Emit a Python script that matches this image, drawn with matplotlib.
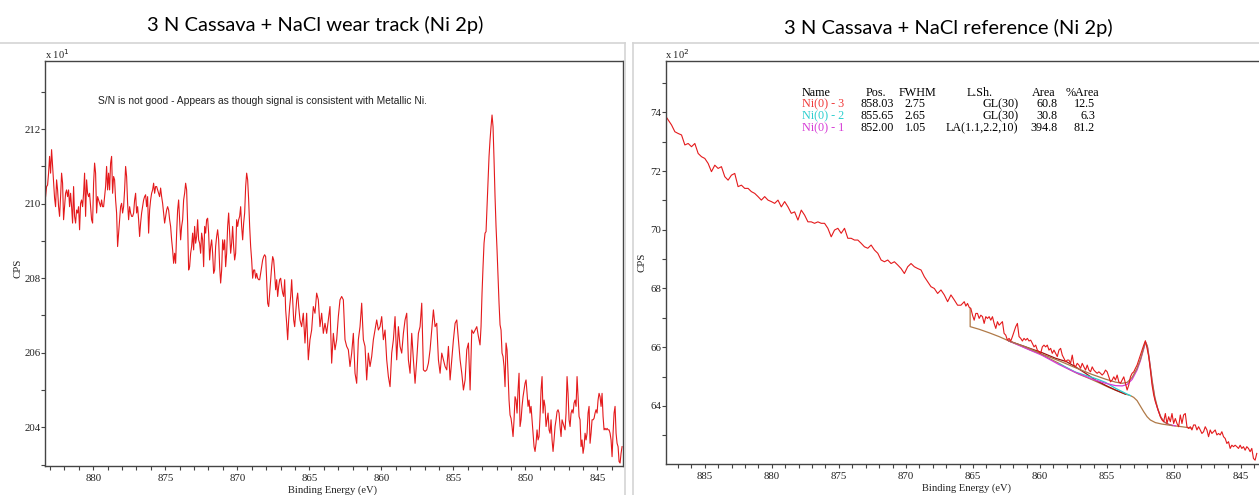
import numpy as np
import matplotlib
matplotlib.use('Agg')
import matplotlib.pyplot as plt
from matplotlib.lines import Line2D
from matplotlib.ticker import MultipleLocator

# ---------------- data: wear track (CPS x 10^1) ----------------
wear_seg1_range = (883.31, 865.74)
wear_seg1 = [
    210.19, 210.46, 210.50, 210.82, 211.27, 210.82, 211.45, 211.00, 210.55, 210.15,
    209.92, 210.64, 210.37, 209.92, 209.66, 210.19, 210.82, 210.55, 209.57, 209.92,
    210.28, 210.37, 210.19, 210.37, 209.92, 210.28, 209.92, 209.48, 210.46, 209.66,
    209.48, 209.83, 209.75, 209.92, 209.30, 210.01, 210.10, 209.92, 210.28, 210.82,
    209.66, 210.64, 210.28, 210.19, 210.28, 209.92, 209.57, 209.48, 210.55, 211.09,
    210.82, 209.75, 210.19, 210.10, 210.01, 209.92, 210.10, 209.92, 209.92, 210.19,
    210.46, 211.00, 210.37, 210.82, 210.37, 211.09, 211.27, 210.28, 210.73, 210.64,
    210.10, 209.75, 208.85, 209.21, 209.57, 209.92, 210.01, 209.75, 209.92, 210.37,
    211.00, 210.73, 210.01, 209.57, 209.92, 209.75, 209.66, 209.66, 209.75, 210.10,
    210.28, 209.75, 209.92, 209.57, 209.12, 209.48, 209.75, 209.92, 210.10, 210.19,
    210.24, 209.92, 210.19, 209.21, 209.83, 210.10, 210.28, 210.37, 210.55, 210.28,
    210.46, 210.46, 210.37, 210.28, 210.19, 210.42, 210.19, 210.01, 209.75, 209.48,
    209.66, 209.83, 209.92, 209.83, 209.57, 209.39, 209.03, 208.76, 208.40, 208.67,
    208.40, 209.21, 209.83, 210.10, 209.57, 209.03, 209.39, 209.57, 210.10, 210.28,
    210.55, 210.37, 209.48, 208.22, 208.31, 208.67, 208.85, 209.21, 208.76, 209.39,
    208.94, 209.12, 209.57, 209.03, 208.94, 208.67, 209.21, 209.03, 208.31, 209.39,
    209.21, 209.57, 209.61, 209.21, 208.49, 208.85, 209.03, 208.67, 208.13, 208.22,
    208.85, 209.12, 209.30, 209.03, 208.31, 207.87, 208.22, 209.03, 208.76, 209.03,
    208.31, 208.67, 209.39, 209.75, 209.21, 208.67, 208.94, 209.39, 208.85, 208.49,
    208.67, 209.57, 209.39, 209.57, 209.66, 209.92, 209.39, 209.03, 209.48, 209.75,
    210.46, 210.82, 210.64, 210.10, 209.39, 208.85, 208.49, 208.00, 208.22, 208.22,
    208.00, 208.13, 208.00, 207.96, 207.96, 208.13, 208.31, 208.49, 208.58, 208.63,
    208.58, 207.96, 207.33, 207.24, 207.60, 207.96, 208.31, 208.58, 208.49, 208.13,
    207.69, 207.96, 207.51, 207.78, 207.96, 208.00, 207.78, 207.60, 207.51, 207.96,
    207.15, 206.79, 206.35, 206.88, 207.24, 207.51, 207.96, 207.42, 206.88, 206.70,
    207.06, 207.42, 207.60, 207.24,
]
wear_seg2_range = (865.65, 853.26)
wear_seg2 = [
    206.88, 206.70, 207.06, 206.26, 207.06, 205.81, 206.35, 206.61, 207.24, 207.06,
    207.60, 207.42, 206.70, 207.06, 206.52, 206.79, 206.52, 206.88, 207.24, 205.72,
    206.52, 206.08, 206.35, 206.97, 207.42, 207.51, 207.42, 206.35, 206.17, 206.08,
    205.63, 205.99, 206.52, 205.45, 205.18, 206.35, 206.70, 207.33, 206.35, 206.17,
    205.27, 205.99, 205.63, 205.90, 206.35, 206.61, 206.88, 206.61, 206.70, 206.97,
    206.35, 206.61, 205.81, 205.36, 205.09, 205.99, 206.35, 206.97, 205.81, 206.70,
    206.17, 205.99, 206.52, 206.88, 207.06, 205.81, 205.45, 206.52, 205.81, 205.18,
    205.81, 206.52, 206.70, 207.33, 205.54, 205.50, 205.54, 205.72, 206.08, 206.61,
    207.15, 206.70, 206.79, 205.81, 205.45, 205.99, 205.81, 205.63, 205.54, 206.17,
    205.27, 205.81, 206.35, 206.79, 206.88, 206.35, 205.81, 205.45, 205.00, 205.27,
    206.08, 206.26, 205.00, 206.61, 206.52, 206.61, 206.70, 206.43,
]
wear_seg3_range = (853.15, 843.29)
wear_seg3 = [
    206.21, 206.70, 207.60, 208.31, 208.94, 209.21, 209.25, 209.92, 210.64, 211.27,
    211.71, 212.07, 212.38, 212.07, 211.18, 210.19, 209.39, 208.76, 208.04, 207.33,
    206.75, 206.61, 205.99, 205.90, 205.63, 205.09, 206.26, 206.08, 205.45, 204.73,
    204.33, 204.24, 204.02, 203.75, 204.20, 204.82, 204.73, 204.38, 205.00, 205.45,
    204.02, 204.20, 204.56, 204.82, 205.00, 205.18, 205.27, 204.91, 204.56, 204.73,
    204.38, 204.56, 204.20, 203.84, 203.48, 203.35, 203.57, 203.93, 203.66, 203.75,
    204.29, 205.00, 205.36, 204.38, 204.73, 204.56, 204.02, 204.20, 204.38, 203.93,
    203.84, 204.20, 203.66, 203.35, 203.66, 204.02, 204.20, 204.42, 204.47, 204.38,
    204.02, 203.75, 204.20, 204.11, 204.02, 203.93, 204.38, 205.36, 204.91, 204.20,
    204.02, 204.38, 204.47, 204.38, 204.65, 204.73, 204.56, 205.36, 204.82, 204.29,
    204.20, 203.48, 203.66, 203.30, 203.48, 203.84, 203.66, 203.84, 204.38, 204.56,
    203.57, 203.84, 204.20, 204.20, 204.24, 204.38, 204.47, 204.38, 204.73, 204.91,
    204.82, 204.56, 204.91, 204.29, 203.93, 203.97, 203.93, 203.97, 203.93, 203.93,
    203.84, 203.66, 203.21, 203.84, 204.38, 204.56, 203.84, 203.57, 203.48, 203.08,
    203.04, 203.30, 203.48,
]

# ---------------- data: reference (CPS x 10^2) ----------------
ref_seg1_range = (887.98, 865.65)
ref_seg1 = [
    73.91, 73.74, 73.57, 73.34, 73.28, 73.23, 72.89, 72.94, 72.83, 72.94,
    72.60, 72.49, 72.43, 72.26, 71.98, 72.20, 72.09, 72.15, 71.81, 71.69,
    71.86, 71.92, 71.47, 71.52, 71.41, 71.41, 71.30, 71.24, 71.13, 71.01,
    71.13, 71.01, 70.96, 70.90, 71.01, 70.78, 70.96, 70.78, 70.56, 70.61,
    70.33, 70.67, 70.50, 70.27, 70.27, 70.22, 70.27, 70.22, 70.22, 70.05,
    69.76, 69.99, 70.05, 69.88, 70.05, 69.71, 69.71, 69.65, 69.65, 69.54,
    69.42, 69.37, 69.48, 69.31, 69.20, 68.97, 68.91, 68.97, 68.85, 68.91,
    68.80, 68.68, 68.51, 68.74, 68.85, 68.74, 68.68, 68.63, 68.40, 68.23,
    68.06, 68.00, 67.83, 67.95, 67.78, 67.55, 67.78, 67.61, 67.43, 67.43,
    67.55,
]
ref_seg2_range = (865.53, 843.83)
ref_seg2 = [
    67.40, 67.49, 67.36, 67.32, 67.09, 66.92, 67.15, 67.15, 66.98, 67.09,
    67.04, 66.81, 67.04, 66.98, 67.04, 66.92, 67.04, 66.81, 66.64, 66.87,
    66.75, 66.81, 66.87, 66.47, 66.41, 66.24, 66.30, 66.21, 66.36, 66.53,
    66.70, 66.81, 66.36, 66.30, 66.21, 66.30, 66.24, 66.30, 66.21, 66.24,
    66.13, 66.01, 66.07, 65.90, 65.84, 65.79, 66.01, 66.07, 66.01, 66.07,
    65.90, 65.96, 65.79, 65.90, 65.79, 65.68, 65.90, 65.96, 65.73, 65.62,
    65.50, 65.56, 65.56, 65.45, 65.73, 65.39, 65.33, 65.45, 65.39, 65.28,
    65.45, 65.33, 65.22, 65.39, 65.22, 65.16, 65.33, 65.22, 65.16, 65.11,
    65.16, 65.11, 65.05, 65.11, 65.22, 65.16, 64.99, 64.82, 64.88, 64.99,
    64.88, 65.05, 64.82, 64.77, 64.88, 64.99, 64.77, 64.54, 64.71, 64.99,
    65.11, 65.16, 65.28, 65.39, 65.56, 65.73, 65.90, 66.07, 66.22, 65.96,
    65.68, 65.22, 64.71, 64.37, 64.14, 63.97, 63.80, 63.63, 63.52, 63.46,
    63.74, 63.40, 63.63, 63.46, 63.74, 63.40, 63.57, 63.40, 63.29, 63.69,
    63.40, 63.69, 63.74, 63.29, 63.23, 63.29, 63.18, 63.35, 63.35, 63.18,
    63.29, 63.18, 63.06, 63.12, 63.29, 63.18, 62.95, 63.18, 63.06, 63.12,
    63.18, 63.01, 63.06, 63.01, 63.12, 62.95, 62.89, 62.72, 62.78, 62.55,
    62.66, 62.61, 62.66, 62.61, 62.55, 62.66, 62.55, 62.61, 62.49, 62.61,
    62.55, 62.44, 62.55, 62.21, 62.15, 62.38,
]

# fit curves of the reference
bg_be = [865.21, 865.21, 864.54, 863.79, 863.05, 862.31, 861.56, 860.82, 860.07, 859.33,
         858.59, 857.84, 857.10, 856.35, 855.61, 854.87, 854.12, 853.63, 853.25, 853.01,
         852.76, 852.51, 852.26, 852.01, 851.77, 851.39, 850.90, 850.15, 849.41, 848.67]
bg_cps = [67.32, 66.70, 66.61, 66.49, 66.36, 66.21, 66.07, 65.92, 65.79, 65.62,
          65.45, 65.25, 65.08, 64.94, 64.79, 64.63, 64.49, 64.40, 64.35, 64.29,
          64.18, 63.99, 63.80, 63.63, 63.52, 63.43, 63.38, 63.33, 63.29, 63.24]

env_be = [862.31, 861.07, 859.83, 858.59, 857.35, 856.11, 855.11, 854.37, 853.87, 853.50,
          853.13, 852.76, 852.51, 852.31, 852.14, 851.99, 851.82, 851.64, 851.44, 851.22,
          851.00, 850.75, 850.45, 850.15]
env_cps = [66.21, 66.01, 65.76, 65.54, 65.30, 65.07, 64.91, 64.81, 64.77, 64.80,
           64.97, 65.28, 65.58, 65.90, 66.18, 66.04, 65.50, 64.88, 64.31, 63.91,
           63.63, 63.46, 63.38, 63.33]

ni1_be = [862.31, 859.83, 858.59, 857.35, 856.11, 855.11, 854.37, 853.87, 853.50, 853.13,
          852.76, 852.51, 852.31, 852.16, 852.09, 851.96, 851.79, 851.62, 851.42, 851.20,
          850.97, 850.70, 850.40, 849.91]
ni1_cps = [66.21, 65.72, 65.41, 65.14, 64.91, 64.77, 64.69, 64.68, 64.73, 64.90,
           65.22, 65.54, 65.87, 66.11, 66.15, 65.96, 65.39, 64.77, 64.22, 63.86,
           63.60, 63.44, 63.37, 63.32]

ni2_be = [858.59, 857.35, 856.11, 855.66, 855.11, 854.37, 853.63, 853.25]
ni2_cps = [65.44, 65.15, 64.97, 64.90, 64.80, 64.60, 64.43, 64.35]

ni3_be = [862.31, 861.07, 859.83, 858.83, 858.04, 857.35, 856.60, 855.86, 855.11, 854.37, 853.63]
ni3_cps = [66.21, 66.01, 65.81, 65.62, 65.51, 65.33, 65.11, 64.88, 64.70, 64.54, 64.40]

table_header = ["Name", "Pos.", "FWHM", "L.Sh.", "Area", "%Area"]
table_names = ["Ni(0) - 3", "Ni(0) - 2", "Ni(0) - 1"]
table_pos = ["858.03", "855.65", "852.00"]
table_fwhm = ["2.75", "2.65", "1.05"]
table_lsh = ["GL(30)", "GL(30)", "LA(1.1,2.2,10)"]
table_area = ["60.8", "30.8", "394.8"]
table_pct = ["12.5", "6.3", "81.2"]

# ---------------- figure ----------------
W, H = 1259, 495
fig = plt.figure(figsize=(W / 100, H / 100), dpi=100)
SERIF = ['Liberation Serif', 'DejaVu Serif']
SANS = ['Liberation Sans', 'DejaVu Sans']
RED = '#e41a1c'
C3, C2, C1 = '#f03a3a', '#2ccfcf', '#d63cd6'


def fx(x):
    return x / W


def fy(y):
    return 1 - y / H


def style_axes(ax, xlim, ylim, ymaj, ymin):
    ax.set_xlim(*xlim)
    ax.set_ylim(*ylim)
    ax.xaxis.set_major_locator(MultipleLocator(5))
    ax.xaxis.set_minor_locator(MultipleLocator(1))
    ax.yaxis.set_major_locator(MultipleLocator(ymaj))
    ax.yaxis.set_minor_locator(MultipleLocator(ymin))
    for s in ax.spines.values():
        s.set_color('#444444')
        s.set_linewidth(1.0)
    ax.tick_params(which='major', direction='out', length=2.6, width=0.8,
                   color='#444444', labelsize=7.8, pad=0.6)
    ax.tick_params(axis='x', which='major', pad=3.0)
    ax.tick_params(which='minor', direction='out', length=2.6, width=0.8, color='#444444')
    for lab in ax.get_xticklabels() + ax.get_yticklabels():
        lab.set_family(SERIF)
        lab.set_color('#222222')


# left panel
ax1 = fig.add_axes([fx(45), fy(466), fx(622.5 - 45), fy(61) - fy(466)])
wear_be = np.concatenate([np.linspace(*wear_seg1_range, len(wear_seg1)),
                          np.linspace(*wear_seg2_range, len(wear_seg2)),
                          np.linspace(*wear_seg3_range, len(wear_seg3))])
wear_cps = np.array(wear_seg1 + wear_seg2 + wear_seg3)
ax1.plot(wear_be, wear_cps, color=RED, lw=0.8)
style_axes(ax1, (883.35, 843.26), (202.96, 213.83), 2, 1)

# right panel
ax2 = fig.add_axes([fx(665.7), fy(464), fx(1262 - 665.7), fy(61) - fy(464)])
ref_be = np.concatenate([np.linspace(*ref_seg1_range, len(ref_seg1)),
                         np.linspace(*ref_seg2_range, len(ref_seg2))])
ref_cps = np.array(ref_seg1 + ref_seg2)
ax2.plot(bg_be, bg_cps, color='#b07a48', lw=0.9)
ax2.plot(ni3_be, ni3_cps, color='#a01010', lw=0.9)
ax2.plot(ni2_be, ni2_cps, color=C2, lw=0.9)
ax2.plot(ni1_be, ni1_cps, color=C1, lw=0.9)
ax2.plot(env_be, env_cps, color='#a8744a', lw=0.9)
ax2.plot(ref_be, ref_cps, color=RED, lw=0.8)
style_axes(ax2, (887.92, 843.44), (62.02, 75.75), 2, 1)

# axis labels and multipliers
for xc, yc in [(333, 490), (966, 488)]:
    fig.text(fx(xc), fy(yc), 'Binding Energy (eV)', family=SERIF, fontsize=7.6,
             color='#222222', ha='center', va='center')
fig.text(fx(18), fy(268), 'CPS', family=SERIF, fontsize=7.8, rotation=90,
         ha='center', va='center', color='#222222')
fig.text(fx(642), fy(262), 'CPS', family=SERIF, fontsize=7.8, rotation=90,
         ha='center', va='center', color='#222222')
fig.text(fx(45), fy(61), r'x 10$^{1}$', family=SERIF, fontsize=7.6,
         ha='left', va='bottom', color='#222222')
fig.text(fx(665), fy(61), r'x 10$^{2}$', family=SERIF, fontsize=7.6,
         ha='left', va='bottom', color='#222222')

# titles
fig.text(fx(315), fy(25), '3 N Cassava + NaCl wear track (Ni 2p)', family=['Lato', 'DejaVu Sans'],
         fontsize=14.5, ha='center', va='center', color='#000000')
fig.text(fx(948), fy(28), '3 N Cassava + NaCl reference (Ni 2p)', family=['Lato', 'DejaVu Sans'],
         fontsize=14.5, ha='center', va='center', color='#000000')

# annotation
fig.text(fx(98), fy(101), 'S/N is not good - Appears as though signal is consistent with Metallic Ni.',
         family=SANS, fontsize=7.4, ha='left', va='center', color='#222222')

# table
rows_y = [104.3, 116.2, 128.3]
colors = [C3, C2, C1]
fig.text(fx(801.5), fy(92.7), table_header[0], family=SERIF, fontsize=8.7, va='center', ha='left')
fig.text(fx(886), fy(92.7), table_header[1], family=SERIF, fontsize=8.7, va='center', ha='right')
fig.text(fx(936), fy(92.7), table_header[2], family=SERIF, fontsize=8.7, va='center', ha='right')
fig.text(fx(993), fy(92.7), table_header[3], family=SERIF, fontsize=8.7, va='center', ha='right')
fig.text(fx(1055), fy(92.7), table_header[4], family=SERIF, fontsize=8.7, va='center', ha='right')
fig.text(fx(1099), fy(92.7), table_header[5], family=SERIF, fontsize=8.7, va='center', ha='right')
for i, y in enumerate(rows_y):
    fig.text(fx(801.5), fy(y), table_names[i], family=SERIF, fontsize=8.7, va='center',
             ha='left', color=colors[i])
    fig.text(fx(894.3), fy(y), table_pos[i], family=SERIF, fontsize=8.7, va='center', ha='right')
    fig.text(fx(925.7), fy(y), table_fwhm[i], family=SERIF, fontsize=8.7, va='center', ha='right')
    fig.text(fx(1018.3), fy(y), table_lsh[i], family=SERIF, fontsize=8.7, va='center', ha='right')
    fig.text(fx(1057.7), fy(y), table_area[i], family=SERIF, fontsize=8.7, va='center', ha='right')
    fig.text(fx(1095), fy(y), table_pct[i], family=SERIF, fontsize=8.7, va='center', ha='right')

# panel frames
gray = '#d4d4d4'
fig.add_artist(Line2D([fx(0), fx(625)], [fy(43), fy(43)], color=gray, lw=1.2))
fig.add_artist(Line2D([fx(625), fx(625)], [fy(43), fy(495)], color=gray, lw=1.2))
fig.add_artist(Line2D([fx(633), fx(1259)], [fy(43), fy(43)], color=gray, lw=1.2))
fig.add_artist(Line2D([fx(633), fx(633)], [fy(43), fy(495)], color=gray, lw=1.2))

fig.savefig('out.png', dpi=100)
